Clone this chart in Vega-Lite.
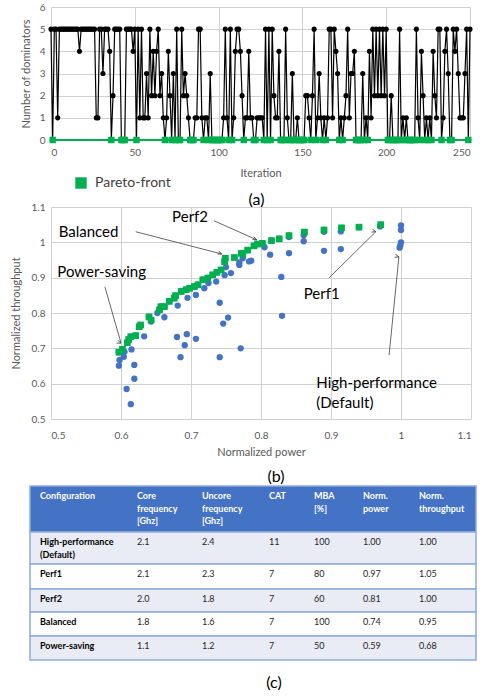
{
"$schema": "https://vega.github.io/schema/vega-lite/v6.json",
"padding": {"left": 10, "top": 2, "right": 0, "bottom": 0},
"spacing": 67,
"bounds": "flush",
"resolve": {"scale": {"color": "independent", "fill": "independent"}},
"config": {
  "font": "Lato",
  "view": {"stroke": null},
  "axis": {"labelFont": "Lato", "titleFont": "Lato", "labelColor": "#595959", "titleColor": "#595959", "labelFontSize": 10, "titleFontSize": 11, "titleFontWeight": "normal", "gridColor": "#D0D0D0", "domain": false, "ticks": false, "labelOverlap": false},
  "title": {"font": "Lato", "fontSize": 16, "fontWeight": "normal", "color": "#000000"}
},
"datasets": {
  "dom": [
{"i":0,"d":5},{"i":1,"d":0},{"i":2,"d":5},{"i":3,"d":5},{"i":4,"d":1},{"i":5,"d":5},{"i":6,"d":5},{"i":7,"d":5},{"i":8,"d":5},{"i":9,"d":5},
{"i":10,"d":5},{"i":11,"d":5},{"i":12,"d":5},{"i":13,"d":5},{"i":14,"d":5},{"i":15,"d":5},{"i":16,"d":5},{"i":17,"d":4},{"i":18,"d":5},{"i":19,"d":5},
{"i":20,"d":5},{"i":21,"d":5},{"i":22,"d":5},{"i":23,"d":5},{"i":24,"d":5},{"i":25,"d":5},{"i":26,"d":5},{"i":27,"d":1},{"i":28,"d":1},{"i":29,"d":5},
{"i":30,"d":5},{"i":31,"d":3},{"i":32,"d":5},{"i":33,"d":5},{"i":34,"d":5},{"i":35,"d":4},{"i":36,"d":0},{"i":37,"d":2},{"i":38,"d":5},{"i":39,"d":5},
{"i":40,"d":5},{"i":41,"d":5},{"i":42,"d":0},{"i":43,"d":0},{"i":44,"d":0},{"i":45,"d":5},{"i":46,"d":5},{"i":47,"d":5},{"i":48,"d":5},{"i":49,"d":4},
{"i":50,"d":5},{"i":51,"d":0},{"i":52,"d":5},{"i":53,"d":1},{"i":54,"d":5},{"i":55,"d":1},{"i":56,"d":1},{"i":57,"d":3},{"i":58,"d":1},{"i":59,"d":5},
{"i":60,"d":2},{"i":61,"d":4},{"i":62,"d":2},{"i":63,"d":4},{"i":64,"d":5},{"i":65,"d":2},{"i":66,"d":3},{"i":67,"d":1},{"i":68,"d":0},{"i":69,"d":1},
{"i":70,"d":4},{"i":71,"d":2},{"i":72,"d":0},{"i":73,"d":3},{"i":74,"d":0},{"i":75,"d":5},{"i":76,"d":0},{"i":77,"d":0},{"i":78,"d":5},{"i":79,"d":2},
{"i":80,"d":3},{"i":81,"d":2},{"i":82,"d":1},{"i":83,"d":0},{"i":84,"d":0},{"i":85,"d":0},{"i":86,"d":1},{"i":87,"d":1},{"i":88,"d":5},{"i":89,"d":5},
{"i":90,"d":1},{"i":91,"d":0},{"i":92,"d":1},{"i":93,"d":1},{"i":94,"d":0},{"i":95,"d":3},{"i":96,"d":0},{"i":97,"d":0},{"i":98,"d":0},{"i":99,"d":0},
{"i":100,"d":0},{"i":101,"d":0},{"i":102,"d":0},{"i":103,"d":1},{"i":104,"d":5},{"i":105,"d":1},{"i":106,"d":0},{"i":107,"d":5},{"i":108,"d":0},{"i":109,"d":1},
{"i":110,"d":4},{"i":111,"d":5},{"i":112,"d":5},{"i":113,"d":4},{"i":114,"d":2},{"i":115,"d":0},{"i":116,"d":1},{"i":117,"d":1},{"i":118,"d":4},{"i":119,"d":1},
{"i":120,"d":1},{"i":121,"d":0},{"i":122,"d":0},{"i":123,"d":1},{"i":124,"d":1},{"i":125,"d":1},{"i":126,"d":1},{"i":127,"d":0},{"i":128,"d":5},{"i":129,"d":0},
{"i":130,"d":5},{"i":131,"d":0},{"i":132,"d":5},{"i":133,"d":2},{"i":134,"d":1},{"i":135,"d":1},{"i":136,"d":4},{"i":137,"d":0},{"i":138,"d":0},{"i":139,"d":0},
{"i":140,"d":5},{"i":141,"d":1},{"i":142,"d":0},{"i":143,"d":0},{"i":144,"d":3},{"i":145,"d":0},{"i":146,"d":0},{"i":147,"d":1},{"i":148,"d":0},{"i":149,"d":0},
{"i":150,"d":0},{"i":151,"d":0},{"i":152,"d":2},{"i":153,"d":2},{"i":154,"d":1},{"i":155,"d":0},{"i":156,"d":2},{"i":157,"d":5},{"i":158,"d":0},{"i":159,"d":1},
{"i":160,"d":3},{"i":161,"d":1},{"i":162,"d":0},{"i":163,"d":1},{"i":164,"d":0},{"i":165,"d":1},{"i":166,"d":5},{"i":167,"d":5},{"i":168,"d":1},{"i":169,"d":5},
{"i":170,"d":4},{"i":171,"d":3},{"i":172,"d":0},{"i":173,"d":1},{"i":174,"d":0},{"i":175,"d":1},{"i":176,"d":2},{"i":177,"d":5},{"i":178,"d":1},{"i":179,"d":3},
{"i":180,"d":3},{"i":181,"d":4},{"i":182,"d":0},{"i":183,"d":0},{"i":184,"d":0},{"i":185,"d":0},{"i":186,"d":3},{"i":187,"d":0},{"i":188,"d":1},{"i":189,"d":0},
{"i":190,"d":4},{"i":191,"d":1},{"i":192,"d":5},{"i":193,"d":2},{"i":194,"d":5},{"i":195,"d":2},{"i":196,"d":5},{"i":197,"d":2},{"i":198,"d":5},{"i":199,"d":2},
{"i":200,"d":5},{"i":201,"d":0},{"i":202,"d":0},{"i":203,"d":2},{"i":204,"d":0},{"i":205,"d":0},{"i":206,"d":0},{"i":207,"d":0},{"i":208,"d":5},{"i":209,"d":0},
{"i":210,"d":1},{"i":211,"d":0},{"i":212,"d":1},{"i":213,"d":0},{"i":214,"d":0},{"i":215,"d":0},{"i":216,"d":0},{"i":217,"d":0},{"i":218,"d":5},{"i":219,"d":1},
{"i":220,"d":0},{"i":221,"d":4},{"i":222,"d":2},{"i":223,"d":0},{"i":224,"d":1},{"i":225,"d":0},{"i":226,"d":1},{"i":227,"d":0},{"i":228,"d":4},{"i":229,"d":2},
{"i":230,"d":1},{"i":231,"d":5},{"i":232,"d":5},{"i":233,"d":0},{"i":234,"d":1},{"i":235,"d":4},{"i":236,"d":5},{"i":237,"d":3},{"i":238,"d":0},{"i":239,"d":0},
{"i":240,"d":5},{"i":241,"d":4},{"i":242,"d":5},{"i":243,"d":3},{"i":244,"d":1},{"i":245,"d":1},{"i":246,"d":1},{"i":247,"d":3},{"i":248,"d":5},{"i":249,"d":0},
{"i":250,"d":5}
  ],
  "pts": [
{"p":0.597,"t":0.651,"f":0},{"p":0.598,"t":0.667,"f":0},{"p":0.604,"t":0.676,"f":0},{"p":0.608,"t":0.585,"f":0},{"p":0.614,"t":0.542,"f":0},
{"p":0.619,"t":0.653,"f":0},{"p":0.619,"t":0.614,"f":0},{"p":0.615,"t":0.697,"f":0},{"p":0.680,"t":0.732,"f":0},{"p":0.685,"t":0.675,"f":0},
{"p":0.694,"t":0.740,"f":0},{"p":0.691,"t":0.709,"f":0},{"p":0.707,"t":0.727,"f":0},{"p":0.741,"t":0.829,"f":0},{"p":0.741,"t":0.675,"f":0},
{"p":0.746,"t":0.770,"f":0},{"p":0.753,"t":0.787,"f":0},{"p":0.771,"t":0.700,"f":0},{"p":0.633,"t":0.734,"f":0},{"p":0.643,"t":0.776,"f":0},
{"p":0.662,"t":0.788,"f":0},{"p":0.681,"t":0.821,"f":0},{"p":0.695,"t":0.843,"f":0},{"p":0.707,"t":0.851,"f":0},{"p":0.719,"t":0.870,"f":0},
{"p":0.736,"t":0.889,"f":0},{"p":0.748,"t":0.907,"f":0},{"p":0.757,"t":0.913,"f":0},{"p":0.769,"t":0.936,"f":0},{"p":0.769,"t":0.943,"f":0},
{"p":0.786,"t":0.948,"f":0},{"p":0.783,"t":0.946,"f":0},{"p":0.805,"t":0.986,"f":0},{"p":0.813,"t":0.965,"f":0},{"p":0.829,"t":0.902,"f":0},
{"p":0.830,"t":0.792,"f":0},{"p":0.840,"t":0.969,"f":0},{"p":0.861,"t":1.003,"f":0},{"p":0.890,"t":0.976,"f":0},{"p":0.914,"t":0.981,"f":0},
{"p":0.914,"t":1.031,"f":0},{"p":0.999,"t":0.991,"f":0},{"p":1.0,"t":1.0,"f":0},{"p":1.0,"t":1.035,"f":0},{"p":1.0,"t":1.048,"f":0},
{"p":0.998,"t":0.985,"f":0},{"p":0.605,"t":0.690,"f":0},{"p":0.652,"t":0.800,"f":0},{"p":0.725,"t":0.885,"f":0},{"p":0.750,"t":0.930,"f":0},
{"p":0.774,"t":0.955,"f":0},{"p":0.840,"t":1.015,"f":0},{"p":0.861,"t":1.020,"f":0},{"p":0.890,"t":1.030,"f":0},{"p":0.970,"t":1.045,"f":0},
{"p":0.597,"t":0.689,"f":1},{"p":0.602,"t":0.697,"f":1},{"p":0.609,"t":0.716,"f":1},{"p":0.611,"t":0.725,"f":1},{"p":0.614,"t":0.733,"f":1},
{"p":0.621,"t":0.736,"f":1},{"p":0.626,"t":0.761,"f":1},{"p":0.628,"t":0.766,"f":1},{"p":0.640,"t":0.789,"f":1},{"p":0.643,"t":0.780,"f":1},
{"p":0.655,"t":0.809,"f":1},{"p":0.657,"t":0.818,"f":1},{"p":0.662,"t":0.818,"f":1},{"p":0.669,"t":0.833,"f":1},{"p":0.676,"t":0.842,"f":1},
{"p":0.678,"t":0.849,"f":1},{"p":0.686,"t":0.861,"f":1},{"p":0.693,"t":0.866,"f":1},{"p":0.698,"t":0.870,"f":1},{"p":0.705,"t":0.875,"f":1},
{"p":0.710,"t":0.880,"f":1},{"p":0.717,"t":0.894,"f":1},{"p":0.724,"t":0.899,"f":1},{"p":0.731,"t":0.908,"f":1},{"p":0.737,"t":0.915,"f":1},
{"p":0.743,"t":0.922,"f":1},{"p":0.748,"t":0.945,"f":1},{"p":0.749,"t":0.955,"f":1},{"p":0.762,"t":0.957,"f":1},{"p":0.772,"t":0.969,"f":1},
{"p":0.774,"t":0.967,"f":1},{"p":0.781,"t":0.978,"f":1},{"p":0.790,"t":0.990,"f":1},{"p":0.795,"t":0.995,"f":1},{"p":0.802,"t":0.997,"f":1},
{"p":0.815,"t":1.005,"f":1},{"p":0.826,"t":1.010,"f":1},{"p":0.840,"t":1.019,"f":1},{"p":0.862,"t":1.029,"f":1},{"p":0.890,"t":1.035,"f":1},
{"p":0.915,"t":1.041,"f":1},{"p":0.940,"t":1.043,"f":1},{"p":0.971,"t":1.050,"f":1}
  ],
  "notes": [
{"txt":"Perf2","p":0.673,"t":1.072},
{"txt":"Balanced","p":0.511,"t":1.030},
{"txt":"Power-saving","p":0.509,"t":0.916},
{"txt":"Perf1","p":0.861,"t":0.854},
{"txt":"High-performance\n(Default)","p":0.879,"t":0.602}
  ],
  "arrows": [
{"lab":"Perf2","x1":0.733,"y1":1.061,"x2":0.794,"y2":1.007},
{"lab":"Balanced","x1":0.621,"y1":1.030,"x2":0.744,"y2":0.967},
{"lab":"Power-saving","x1":0.577,"y1":0.874,"x2":0.600,"y2":0.715},
{"lab":"Perf1","x1":0.897,"y1":0.899,"x2":0.964,"y2":1.030},
{"lab":"High","x1":0.983,"y1":0.681,"x2":0.997,"y2":0.959}
  ],
  "rows": [
{"r":0,"r2":1,"k":"head"},{"r":1,"r2":2,"k":"band"},{"r":2,"r2":3,"k":"plain"},{"r":3,"r2":4,"k":"band"},{"r":4,"r2":5,"k":"plain"},{"r":5,"r2":6,"k":"band"}
  ],
  "cells": [
{"r":0,"c":0,"s":"head","t":"Configuration"},{"r":0,"c":1,"s":"head","t":"Core\nfrequency\n[Ghz]"},{"r":0,"c":2,"s":"head","t":"Uncore\nfrequency\n[Ghz]"},{"r":0,"c":3,"s":"head","t":"CAT"},{"r":0,"c":4,"s":"head","t":"MBA\n[%]"},{"r":0,"c":5,"s":"head","t":"Norm.\npower"},{"r":0,"c":6,"s":"head","t":"Norm.\nthroughput"},
{"r":1,"c":0,"s":"first","t":"High-performance\n(Default)"},{"r":1,"c":1,"s":"body","t":"2.1"},{"r":1,"c":2,"s":"body","t":"2.4"},{"r":1,"c":3,"s":"body","t":"11"},{"r":1,"c":4,"s":"body","t":"100"},{"r":1,"c":5,"s":"body","t":"1.00"},{"r":1,"c":6,"s":"body","t":"1.00"},
{"r":2,"c":0,"s":"first","t":"Perf1"},{"r":2,"c":1,"s":"body","t":"2.1"},{"r":2,"c":2,"s":"body","t":"2.3"},{"r":2,"c":3,"s":"body","t":"7"},{"r":2,"c":4,"s":"body","t":"80"},{"r":2,"c":5,"s":"body","t":"0.97"},{"r":2,"c":6,"s":"body","t":"1.05"},
{"r":3,"c":0,"s":"first","t":"Perf2"},{"r":3,"c":1,"s":"body","t":"2.0"},{"r":3,"c":2,"s":"body","t":"1.8"},{"r":3,"c":3,"s":"body","t":"7"},{"r":3,"c":4,"s":"body","t":"60"},{"r":3,"c":5,"s":"body","t":"0.81"},{"r":3,"c":6,"s":"body","t":"1.00"},
{"r":4,"c":0,"s":"first","t":"Balanced"},{"r":4,"c":1,"s":"body","t":"1.8"},{"r":4,"c":2,"s":"body","t":"1.6"},{"r":4,"c":3,"s":"body","t":"7"},{"r":4,"c":4,"s":"body","t":"100"},{"r":4,"c":5,"s":"body","t":"0.74"},{"r":4,"c":6,"s":"body","t":"0.95"},
{"r":5,"c":0,"s":"first","t":"Power-saving"},{"r":5,"c":1,"s":"body","t":"1.1"},{"r":5,"c":2,"s":"body","t":"1.2"},{"r":5,"c":3,"s":"body","t":"7"},{"r":5,"c":4,"s":"body","t":"50"},{"r":5,"c":5,"s":"body","t":"0.59"},{"r":5,"c":6,"s":"body","t":"0.68"}
  ]
},
"vconcat": [
  {
    "width": 419, "height": 133,
    "title": {"text": "(a)", "orient": "bottom", "frame": "group", "dx": -4, "offset": 2},
    "data": {"name": "dom"},
    "encoding": {
      "x": {"field": "i", "type": "quantitative", "scale": {"domain": [0, 250], "nice": false}, "axis": {"values": [0, 50, 100, 150, 200, 250], "tickCount": 30, "format": "d", "grid": true, "title": "Iteration", "labelPadding": 7, "titlePadding": 10, "labelOverlap": false}},
      "y": {"field": "d", "type": "quantitative", "scale": {"domain": [0, 6], "nice": false}, "axis": {"values": [0, 1, 2, 3, 4, 5, 6], "tickCount": 30, "format": "d", "grid": true, "title": "Number of dominators", "labelPadding": 6, "titlePadding": 8, "labelOverlap": false}}
    },
    "layer": [
      {"mark": {"type": "line", "color": "#000000", "strokeWidth": 1.2, "point": {"filled": true, "color": "#000000", "size": 26}}},
      {"transform": [{"filter": "datum.d == 0"}],
       "mark": {"type": "line", "color": "#00B050", "strokeWidth": 2}},
      {"transform": [{"filter": "datum.d == 0"}],
       "mark": {"type": "point", "shape": "square", "filled": true, "size": 42, "opacity": 1},
       "encoding": {
         "color": {"datum": "Pareto-front", "type": "nominal", "scale": {"domain": ["Pareto-front"], "range": ["#00B050"]},
           "legend": {"title": null, "orient": "none", "legendX": 23, "legendY": 169, "symbolType": "square", "symbolSize": 130, "labelFontSize": 14, "labelColor": "#404040", "labelFont": "Lato", "labelOffset": 7}}}}
    ]
  },
  {
    "width": 420, "height": 212,
    "title": {"text": "(b)", "orient": "bottom", "frame": "group", "dx": 15, "offset": 12},
    "layer": [
      {"data": {"name": "pts"},
       "mark": {"type": "circle", "color": "#4472C4", "size": 40, "opacity": 1},
       "encoding": {
         "x": {"field": "p", "type": "quantitative", "scale": {"domain": [0.5, 1.1], "nice": false, "zero": false}, "axis": {"values": [0.5, 0.6, 0.7, 0.8, 0.9, 1, 1.1], "tickCount": 30, "grid": true, "format": "~g", "title": "Normalized power", "labelPadding": 11, "titlePadding": 6, "labelOverlap": false}},
         "y": {"field": "t", "type": "quantitative", "scale": {"domain": [0.5, 1.1], "nice": false, "zero": false}, "axis": {"values": [0.5, 0.6, 0.7, 0.8, 0.9, 1, 1.1], "tickCount": 30, "grid": true, "format": "~g", "title": "Normalized throughput", "labelPadding": 6, "titlePadding": 10, "labelOverlap": false}}
       }},
      {"data": {"name": "pts"}, "transform": [{"filter": "datum.f == 1"}],
       "mark": {"type": "square", "color": "#00B050", "size": 45, "opacity": 1},
       "encoding": {
         "x": {"field": "p", "type": "quantitative", "axis": {"values": [0.5, 0.6, 0.7, 0.8, 0.9, 1, 1.1], "tickCount": 30, "grid": true, "format": "~g", "title": "Normalized power", "labelPadding": 11, "titlePadding": 6, "labelOverlap": false}},
         "y": {"field": "t", "type": "quantitative", "axis": {"values": [0.5, 0.6, 0.7, 0.8, 0.9, 1, 1.1], "tickCount": 30, "grid": true, "format": "~g", "title": "Normalized throughput", "labelPadding": 6, "titlePadding": 10, "labelOverlap": false}}}},
      {"data": {"name": "arrows"},
       "mark": {"type": "rule", "color": "#404040", "strokeWidth": 0.8},
       "encoding": {
         "x": {"field": "x1", "type": "quantitative", "axis": {"values": [0.5, 0.6, 0.7, 0.8, 0.9, 1, 1.1], "tickCount": 30, "grid": true, "format": "~g", "title": "Normalized power", "labelPadding": 11, "titlePadding": 6, "labelOverlap": false}},
         "y": {"field": "y1", "type": "quantitative", "axis": {"values": [0.5, 0.6, 0.7, 0.8, 0.9, 1, 1.1], "tickCount": 30, "grid": true, "format": "~g", "title": "Normalized throughput", "labelPadding": 6, "titlePadding": 10, "labelOverlap": false}},
         "x2": {"field": "x2"}, "y2": {"field": "y2"}}},
      {"data": {"name": "arrows"},
       "mark": {"type": "point", "shape": "M-0.7,1.8L0,0L0.7,1.8", "filled": false, "stroke": "#404040", "strokeWidth": 0.8, "size": 20, "opacity": 1},
       "encoding": {
         "x": {"field": "x2", "type": "quantitative", "axis": {"values": [0.5, 0.6, 0.7, 0.8, 0.9, 1, 1.1], "tickCount": 30, "grid": true, "format": "~g", "title": "Normalized power", "labelPadding": 11, "titlePadding": 6, "labelOverlap": false}},
         "y": {"field": "y2", "type": "quantitative", "axis": {"values": [0.5, 0.6, 0.7, 0.8, 0.9, 1, 1.1], "tickCount": 30, "grid": true, "format": "~g", "title": "Normalized throughput", "labelPadding": 6, "titlePadding": 10, "labelOverlap": false}},
         "angle": {"field": "lab", "type": "nominal", "scale": {"domain": ["Perf2", "Balanced", "Power-saving", "Perf1", "High"], "range": [114, 104, 164, 46, 6]}, "legend": null}}},
      {"data": {"name": "notes"},
       "mark": {"type": "text", "align": "left", "baseline": "middle", "fontSize": 15, "color": "#000000", "lineBreak": "\n", "lineHeight": 20},
       "encoding": {
         "x": {"field": "p", "type": "quantitative", "axis": {"values": [0.5, 0.6, 0.7, 0.8, 0.9, 1, 1.1], "tickCount": 30, "grid": true, "format": "~g", "title": "Normalized power", "labelPadding": 11, "titlePadding": 6, "labelOverlap": false}},
         "y": {"field": "t", "type": "quantitative", "axis": {"values": [0.5, 0.6, 0.7, 0.8, 0.9, 1, 1.1], "tickCount": 30, "grid": true, "format": "~g", "title": "Normalized throughput", "labelPadding": 6, "titlePadding": 10, "labelOverlap": false}},
         "text": {"field": "txt"}}}
    ]
  },
  {
    "width": 420, "height": 174,
    "title": {"text": "(c)", "orient": "bottom", "frame": "group", "dx": 13, "offset": 14},
    "layer": [
      {"data": {"name": "rows"},
       "mark": {"type": "rect", "stroke": "#8FAADC", "strokeWidth": 1.5},
       "encoding": {
         "x": {"datum": -1, "type": "quantitative", "scale": {"domain": [-1, 0, 1, 2, 3, 4, 5, 6, 7], "range": [-21, -11, 86, 151, 218, 263, 312, 368, 425], "nice": false, "zero": false}, "axis": null},
         "x2": {"datum": 7},
         "y": {"field": "r", "type": "quantitative", "scale": {"domain": [0, 1, 2, 3, 4, 5, 6], "range": [0, 46, 78, 103, 126, 150, 174], "nice": false, "zero": false}, "axis": null},
         "y2": {"field": "r2"},
         "fill": {"field": "k", "type": "nominal", "scale": {"domain": ["head", "band", "plain"], "range": ["#4472C4", "#E9EBF5", "#FFFFFF"]}, "legend": null}
       }},
      {"data": {"name": "cells"}, "transform": [{"filter": "datum.s == 'head'"}],
       "mark": {"type": "text", "align": "left", "baseline": "top", "dy": 6, "fontSize": 9, "fontWeight": "bold", "color": "#FFFFFF", "lineBreak": "\n", "lineHeight": 12.5},
       "encoding": {"x": {"field": "c", "type": "quantitative", "axis": null}, "y": {"field": "r", "type": "quantitative", "axis": null}, "text": {"field": "t"}}},
      {"data": {"name": "cells"}, "transform": [{"filter": "datum.s == 'first'"}],
       "mark": {"type": "text", "align": "left", "baseline": "top", "dy": 6, "fontSize": 9, "fontWeight": "bold", "color": "#000000", "lineBreak": "\n", "lineHeight": 12.5},
       "encoding": {"x": {"field": "c", "type": "quantitative", "axis": null}, "y": {"field": "r", "type": "quantitative", "axis": null}, "text": {"field": "t"}}},
      {"data": {"name": "cells"}, "transform": [{"filter": "datum.s == 'body'"}],
       "mark": {"type": "text", "align": "left", "baseline": "top", "dy": 6, "fontSize": 9, "color": "#262626"},
       "encoding": {"x": {"field": "c", "type": "quantitative", "axis": null}, "y": {"field": "r", "type": "quantitative", "axis": null}, "text": {"field": "t"}}}
    ]
  }
]
}
